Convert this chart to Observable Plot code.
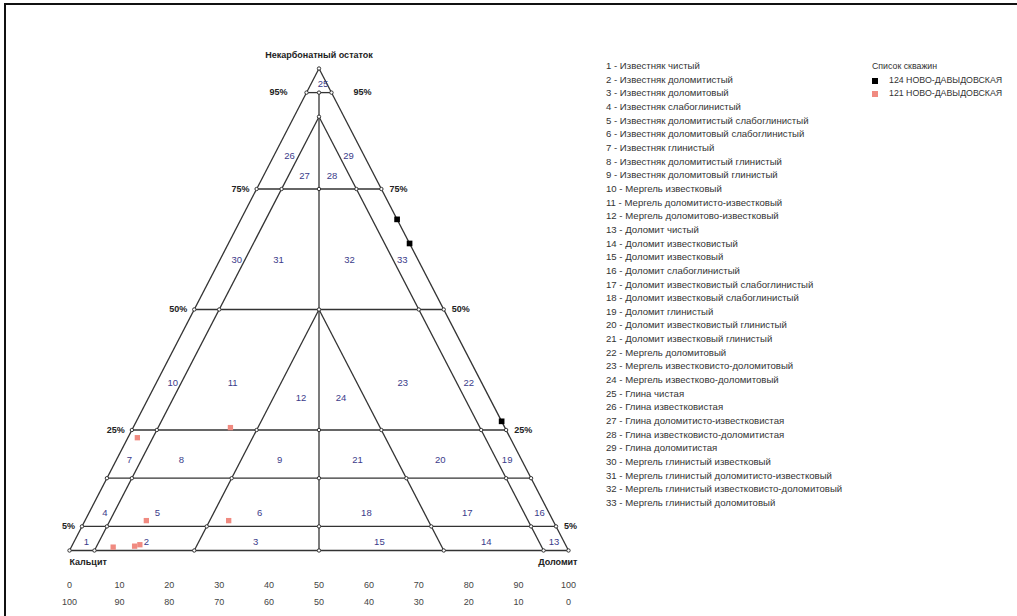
<!DOCTYPE html>
<html>
<head>
<meta charset="utf-8">
<script src="https://cdn.jsdelivr.net/npm/d3@7"></script>
<script src="https://cdn.jsdelivr.net/npm/@observablehq/plot@0.6"></script>
<style>
  body { margin: 0; background: #fff; font-family: "Liberation Sans", Arial, sans-serif; }
  #wrap { position: relative; width: 1017px; height: 616px; overflow: hidden; background: #fff; }
  #frame { position: absolute; left: 4px; top: 3px; right: -5px; bottom: -5px; border-top: 2px solid #111; border-left: 2px solid #111; pointer-events: none; }
  #chart { position: absolute; left: 0; top: 0; }
  #types { position: absolute; left: 606px; top: 59px; font-size: 9.6px; color: #333; line-height: 13.66px; white-space: nowrap; }
  #wells { position: absolute; left: 872px; top: 60px; font-size: 8.8px; color: #333; line-height: 13.6px; white-space: nowrap; }
  #wells .row { position: relative; padding-left: 17px; }
  #wells .sw { position: absolute; left: 0; top: 4px; width: 6px; height: 6px; }
</style>
</head>
<body>
<div id="wrap">
  <div id="chart"></div>
  <div id="types"></div>
  <div id="wells"></div>
  <div id="frame"></div>
</div>
<script>
// ---------- data ----------
const apexLabel = "Некарбонатный остаток";
const leftLabel = "Кальцит";
const rightLabel = "Доломит";

// horizontal (non-carbonate) levels
const levels = [5, 15, 25, 50, 75, 95];
const levelLabels = [5, 25, 50, 75, 95];

// inner lines: constant dolomite / constant calcite, with top limit (non-carbonate %)
const dolomiteLines = [5, 25];
const dolomiteLinesTop = [90, 50];
const calciteLines = [5, 25];
const calciteLinesTop = [90, 50];
const centerTop = 95;

// bottom tick labels
const ticksTop = [0, 10, 20, 30, 40, 50, 60, 70, 80, 90, 100];
const ticksBottom = [100, 90, 80, 70, 60, 50, 40, 30, 20, 10, 0];

// region labels: id, position (horizontal %, non-carbonate %)
const regionIds = d3.range(1, 34);
const regionPosX = [3.4, 15.4, 37.3, 7.1, 17.6, 38.1, 12.0, 22.4, 42.1, 20.7, 32.7, 46.4,
  97.1, 83.5, 62.1, 94.2, 79.7, 59.5, 87.7, 74.3, 57.7, 80.0, 66.8, 54.4,
  50.8, 44.1, 47.1, 52.6, 55.9, 33.5, 41.9, 56.1, 66.7];
const regionPosN = [1.7, 1.7, 1.7, 7.7, 7.7, 7.7, 18.7, 18.7, 18.7, 34.8, 34.8, 31.6,
  1.7, 1.7, 1.7, 7.7, 7.7, 7.7, 18.7, 18.7, 18.7, 34.8, 34.8, 31.6,
  96.7, 81.9, 77.8, 77.8, 81.9, 60.3, 60.3, 60.3, 60.3];
const regionNames = [
  "Известняк чистый", "Известняк доломитистый", "Известняк доломитовый", "Известняк слабоглинистый",
  "Известняк доломитистый слабоглинистый", "Известняк доломитовый слабоглинистый", "Известняк глинистый",
  "Известняк доломитистый глинистый", "Известняк доломитовый глинистый", "Мергель известковый",
  "Мергель доломитисто-известковый", "Мергель доломитово-известковый", "Доломит чистый",
  "Доломит известковистый", "Доломит известковый", "Доломит слабоглинистый",
  "Доломит известковистый слабоглинистый", "Доломит известковый слабоглинистый", "Доломит глинистый",
  "Доломит известковистый глинистый", "Доломит известковый глинистый", "Мергель доломитовый",
  "Мергель известковисто-доломитовый", "Мергель известково-доломитовый", "Глина чистая",
  "Глина известковистая", "Глина доломитисто-известковистая", "Глина известковисто-доломитистая",
  "Глина доломитистая", "Мергель глинистый известковый", "Мергель глинистый доломитисто-известковый",
  "Мергель глинистый известковисто-доломитовый", "Мергель глинистый доломитовый"
];

// wells (dolomite %, non-carbonate %)
const wellNames = ["124  НОВО-ДАВЫДОВСКАЯ", "121  НОВО-ДАВЫДОВСКАЯ"];
const wellColors = ["#000000", "#f08a80"];
const well124Dol = [31.3, 36.3, 73.2];
const well124Non = [68.7, 63.7, 26.8];
const well121Dol = [1.9, 19.5, 12.3, 28.8, 8.4, 12.6, 13.5];
const well121Non = [23.4, 25.5, 6.2, 6.2, 0.7, 0.9, 1.2];

// ---------- build ----------
const tx = (dol, non) => dol + non / 2; // horizontal position in the ternary

const segs = [];
segs.push({x1: 0, y1: 0, x2: 100, y2: 0});
segs.push({x1: 0, y1: 0, x2: 50, y2: 100});
segs.push({x1: 100, y1: 0, x2: 50, y2: 100});
levels.forEach(n => segs.push({x1: n / 2, y1: n, x2: 100 - n / 2, y2: n}));
dolomiteLines.forEach((d, i) => segs.push({x1: d, y1: 0, x2: tx(d, dolomiteLinesTop[i]), y2: dolomiteLinesTop[i]}));
calciteLines.forEach((c, i) => segs.push({x1: 100 - c, y1: 0, x2: 100 - c - calciteLinesTop[i] / 2, y2: calciteLinesTop[i]}));
segs.push({x1: 50, y1: 0, x2: 50, y2: centerTop});

const nodeMap = new Map();
const addNode = (x, y) => { const k = x.toFixed(3) + "," + y.toFixed(3); if (!nodeMap.has(k)) nodeMap.set(k, {x, y}); };
[0, ...levels].forEach(n => {
  addNode(n / 2, n); addNode(100 - n / 2, n);
  if (n <= centerTop) addNode(50, n);
  dolomiteLines.forEach((d, i) => { if (n <= dolomiteLinesTop[i]) addNode(tx(d, n), n); });
  calciteLines.forEach((c, i) => { if (n <= calciteLinesTop[i]) addNode(100 - c - n / 2, n); });
});
dolomiteLines.forEach((d, i) => addNode(tx(d, dolomiteLinesTop[i]), dolomiteLinesTop[i]));
addNode(50, 100);
const nodes = [...nodeMap.values()];

const regions = regionIds.map((id, i) => ({id, x: regionPosX[i], y: regionPosN[i]}));
const pts124 = well124Dol.map((d, i) => ({x: tx(d, well124Non[i]), y: well124Non[i]}));
const pts121 = well121Dol.map((d, i) => ({x: tx(d, well121Non[i]), y: well121Non[i]}));

const font = "Liberation Sans, Arial, sans-serif";
const lvlMain = levelLabels.filter(n => n !== 95);

const plot = Plot.plot({
  width: 1017,
  height: 616,
  marginLeft: 69,
  marginRight: 449,
  marginTop: 68,
  marginBottom: 66,
  x: {domain: [0, 100], axis: null},
  y: {domain: [0, 100], axis: null},
  style: {background: "transparent", fontFamily: font},
  marks: [
    Plot.link(segs, {x1: "x1", y1: "y1", x2: "x2", y2: "y2", stroke: "#333", strokeWidth: 1.3}),
    Plot.dot(nodes, {x: "x", y: "y", r: 1.7, fill: "#fff", stroke: "#333", strokeWidth: 1}),
    Plot.text(regions, {x: "x", y: "y", text: d => String(d.id), fill: "#3b3b8a", fontSize: 9.5, fontFamily: font}),
    // percent labels
    Plot.text(lvlMain, {x: n => n / 2, y: n => n, text: n => n + "%", textAnchor: "end", dx: -7, fontWeight: "bold", fontSize: 9, fill: "#222", fontFamily: font}),
    Plot.text(lvlMain, {x: n => 100 - n / 2, y: n => n, text: n => n + "%", textAnchor: "start", dx: 8, fontWeight: "bold", fontSize: 9, fill: "#222", fontFamily: font}),
    Plot.text([95], {x: n => n / 2, y: n => n, text: n => n + "%", textAnchor: "end", dx: -19, fontWeight: "bold", fontSize: 9, fill: "#222", fontFamily: font}),
    Plot.text([95], {x: n => 100 - n / 2, y: n => n, text: n => n + "%", textAnchor: "start", dx: 22, fontWeight: "bold", fontSize: 9, fill: "#222", fontFamily: font}),
    // vertex labels
    Plot.text([apexLabel], {x: 50, y: 100, text: d => d, dy: -13, fontWeight: "bold", fontSize: 9, fill: "#222", fontFamily: font}),
    Plot.text([leftLabel], {x: 0, y: 0, text: d => d, dy: 12, textAnchor: "start", fontWeight: "bold", fontSize: 9, fill: "#222", fontFamily: font}),
    Plot.text([rightLabel], {x: 100, y: 0, text: d => d, dy: 12, dx: 9, textAnchor: "end", fontWeight: "bold", fontSize: 9, fill: "#222", fontFamily: font}),
    // bottom scale rows
    Plot.text(ticksTop, {x: d => d, text: d => String(d), frameAnchor: "bottom", dy: 37, fontSize: 9, fill: "#444", fontFamily: font}),
    Plot.text(ticksTop, {x: d => d, text: (d, i) => String(ticksBottom[i]), frameAnchor: "bottom", dy: 54, fontSize: 9, fill: "#444", fontFamily: font}),
    // wells
    Plot.dot(pts121, {x: "x", y: "y", symbol: "square", r: 3, fill: wellColors[1]}),
    Plot.dot(pts124, {x: "x", y: "y", symbol: "square", r: 3.2, fill: wellColors[0]})
  ]
});
document.getElementById("chart").appendChild(plot);

// rock type list
const types = document.getElementById("types");
regionNames.forEach((name, i) => {
  const div = document.createElement("div");
  div.textContent = regionIds[i] + " - " + name;
  types.appendChild(div);
});

// wells legend
const wells = document.getElementById("wells");
const title = document.createElement("div");
title.textContent = "Список скважин";
wells.appendChild(title);
wellNames.forEach((name, i) => {
  const row = document.createElement("div");
  row.className = "row";
  const sw = document.createElement("span");
  sw.className = "sw";
  sw.style.background = wellColors[i];
  row.appendChild(sw);
  row.appendChild(document.createTextNode(name));
  wells.appendChild(row);
});
</script>
</body>
</html>
